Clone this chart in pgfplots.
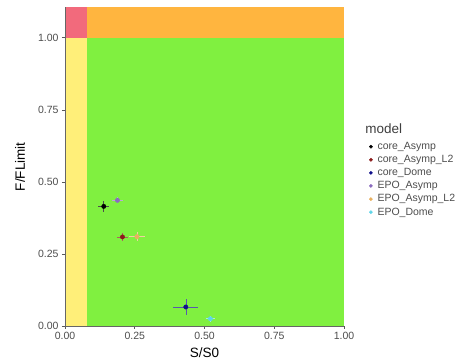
\documentclass[border=0pt]{standalone}
\usepackage{pgfplots}
\pgfplotsset{compat=1.18}
\usepackage{fontspec}
\setmainfont{Liberation Sans}
\definecolor{bgred}{HTML}{F26A7C}
\definecolor{bgorange}{HTML}{FFB53F}
\definecolor{bgyellow}{HTML}{FFEF79}
\definecolor{bggreen}{HTML}{80F040}
\definecolor{cA}{HTML}{000000}
\definecolor{cAL}{HTML}{8B1A1A}
\definecolor{cD}{HTML}{10108B}
\definecolor{eA}{HTML}{8A6BBE}
\definecolor{eAL}{HTML}{E8B060}
\definecolor{eD}{HTML}{5FD5E8}
\definecolor{txt}{HTML}{4D4D4D}
\begin{document}
\begin{tikzpicture}
\begin{axis}[
  scale only axis, width=279pt, height=318.5pt,
  xmin=0, xmax=1, ymin=0, ymax=1.105,
  axis on top,
  axis lines=left, axis line style={-, draw=gray!80!black, line width=0.6pt},
  xtick={0,0.25,0.5,0.75,1}, xticklabels={0.00,0.25,0.50,0.75,1.00},
  ytick={0,0.25,0.5,0.75,1}, yticklabels={0.00,0.25,0.50,0.75,1.00},
  tick align=outside, major tick length=3pt,
  tick style={gray!70!black, line width=0.6pt},
  ticklabel style={font=\fontsize{10.5}{12}\selectfont, text=txt},
  /pgf/number format/assume math mode=true,
  xlabel={S/S0}, ylabel={F/FLimit},
  label style={font=\fontsize{13.5}{15}\selectfont},
  xlabel style={at={(axis description cs:0.5,-0.085)}, anchor=center},
  ylabel style={at={(axis description cs:-0.161,0.5)}, anchor=center},
  legend style={draw=none, fill=none, inner sep=0pt, at={(1.09,0.46)}, anchor=west,
    font=\fontsize{10.5}{11}\selectfont, text=txt, row sep=0.3pt, name=leg,
    /tikz/every odd column/.style={column sep=3pt}},
  legend cell align=left,
  legend image code/.code={\draw[#1, mark size=1.6pt] plot coordinates {(0pt,0pt)};},
]
\addplot[fill=bgyellow, draw=none, forget plot] coordinates {(0,0) (0.079,0) (0.079,1) (0,1)} -- cycle;
\addplot[fill=bgred, draw=none, forget plot] coordinates {(0,1) (0.079,1) (0.079,1.105) (0,1.105)} -- cycle;
\addplot[fill=bgorange, draw=none, forget plot] coordinates {(0.079,1) (1,1) (1,1.105) (0.079,1.105)} -- cycle;
\addplot[fill=bggreen, draw=none, forget plot] coordinates {(0.079,0) (1,0) (1,1) (0.079,1)} -- cycle;

\addplot[only marks, mark=*, mark size=2.2pt, color=cA,
  error bars/.cd, x dir=both, x explicit, y dir=both, y explicit,
  error mark=none, error bar style={line width=0.6pt, color=cA!70}]
  coordinates {(0.139,0.415) +- (0.02,0.02)};
\addlegendentry{core\_Asymp}
\addplot[only marks, mark=*, mark size=2.2pt, color=cAL,
  error bars/.cd, x dir=both, x explicit, y dir=both, y explicit,
  error mark=none, error bar style={line width=0.6pt, color=cAL!70}]
  coordinates {(0.206,0.309) +- (0.02,0.015)};
\addlegendentry{core\_Asymp\_L2}
\addplot[only marks, mark=*, mark size=2.2pt, color=cD,
  error bars/.cd, x dir=both, x explicit, y dir=both, y explicit,
  error mark=none, error bar style={line width=0.6pt, color=cD!70}]
  coordinates {(0.433,0.066) +- (0.045,0.028)};
\addlegendentry{core\_Dome}
\addplot[only marks, mark=*, mark size=2.2pt, color=eA,
  error bars/.cd, x dir=both, x explicit, y dir=both, y explicit,
  error mark=none, error bar style={line width=0.6pt, color=eA!60}]
  coordinates {(0.188,0.436) +- (0.02,0.01)};
\addlegendentry{EPO\_Asymp}
\addplot[only marks, mark=*, mark size=2.2pt, color=eAL,
  error bars/.cd, x dir=both, x explicit, y dir=both, y explicit,
  error mark=none, error bar style={line width=0.6pt, color=eAL!60}]
  coordinates {(0.258,0.310) +- (0.03,0.015)};
\addlegendentry{EPO\_Asymp\_L2}
\addplot[only marks, mark=*, mark size=2.2pt, color=eD,
  error bars/.cd, x dir=both, x explicit, y dir=both, y explicit,
  error mark=none, error bar style={line width=0.6pt, color=eD!60}]
  coordinates {(0.521,0.025) +- (0.015,0.01)};
\addlegendentry{EPO\_Dome}
\end{axis}
\node[anchor=base west, inner sep=0pt, font=\fontsize{13.5}{15}\selectfont, text=txt!80!black]
  at ([xshift=-4pt, yshift=7pt]leg.north west) {model};
\pgfresetboundingbox
\path (-65pt,-37pt) rectangle (411pt,326pt);
\end{tikzpicture}
\end{document}
